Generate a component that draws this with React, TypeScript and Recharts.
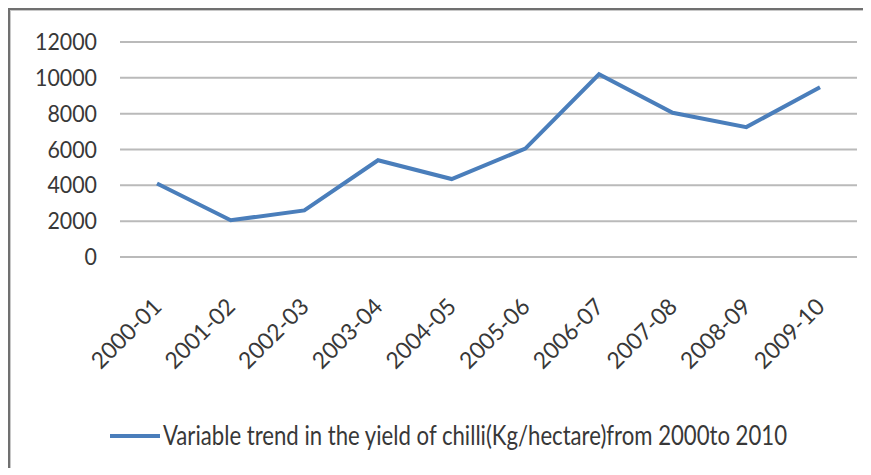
import React from "react";
import { LineChart, Line, XAxis, YAxis, CartesianGrid, Legend } from "recharts";

// Crop years and yield of chilli (Kg/hectare)
const seasons = [
  "2000-01",
  "2001-02",
  "2002-03",
  "2003-04",
  "2004-05",
  "2005-06",
  "2006-07",
  "2007-08",
  "2008-09",
  "2009-10",
];
const yieldKgPerHa = [4100, 2050, 2600, 5400, 4350, 6050, 10200, 8050, 7250, 9470];
const yTicks = [0, 2000, 4000, 6000, 8000, 10000, 12000];
const seriesName =
  "Variable trend in the yield of chilli(Kg/hectare)from 2000to 2010";

const data = seasons.map((season, i) => ({ season, value: yieldKgPerHa[i] }));

const FONT = "Lato, 'Open Sans', sans-serif";
const TEXT_COLOR = "#383838";
const LINE_COLOR = "#4a7ebb";
const GRID_COLOR = "#bababa";

const CHART_W = 863;
const CHART_H = 467;

// Narrow, Calibri-like digits: fixed advance per character
const DIGIT_W = 12.4;

const YTick = (props: any) => {
  const { x, y, payload } = props;
  const label = String(payload.value);
  return (
    <text
      x={x - 23}
      y={y + 8}
      textAnchor="end"
      fontFamily={FONT}
      fontSize={23}
      fill={TEXT_COLOR}
      textLength={label.length * DIGIT_W}
      lengthAdjust="spacingAndGlyphs"
    >
      {label}
    </text>
  );
};

const XTick = (props: any) => {
  const { x, y, payload } = props;
  return (
    <g transform={`translate(${x},${y + 45})`}>
      <text
        transform="rotate(-45)"
        x={0}
        y={8.5}
        textAnchor="end"
        fontFamily={FONT}
        fontSize={23}
        fill={TEXT_COLOR}
        textLength={88}
        lengthAdjust="spacingAndGlyphs"
      >
        {payload.value}
      </text>
    </g>
  );
};

// Legend: short blue swatch followed by a tall, narrow series label
const LegendContent = (props: any) => {
  const item = (props.payload && props.payload[0]) || { value: seriesName, color: LINE_COLOR };
  return (
    <svg width={CHART_W} height={50} style={{ display: "block" }}>
      <line x1={102} x2={152} y1={23} y2={23} stroke={item.color} strokeWidth={4} />
      <g transform="translate(155,32) scale(1,1.26)">
        <text
          x={0}
          y={0}
          fontFamily={FONT}
          fontSize={22}
          fill={TEXT_COLOR}
          textLength={624}
          lengthAdjust="spacingAndGlyphs"
        >
          {item.value}
        </text>
      </g>
    </svg>
  );
};

export default function App() {
  return (
    <div style={{ position: "relative", width: CHART_W, height: CHART_H }}>
      <div
        style={{
          position: "absolute",
          left: 0,
          top: 0,
          width: CHART_W,
          height: 460,
          boxSizing: "border-box",
          borderTop: "2px solid #707070",
          borderLeft: "2px solid #707070",
          boxShadow: "inset 1px 1px 0 #c8c8c8",
        }}
      />
      <div style={{ position: "absolute", left: 0, top: 0 }}>
        <LineChart
          width={CHART_W}
          height={CHART_H}
          data={data}
          margin={{ top: 34, right: 14, bottom: 98, left: 52 }}
        >
          <CartesianGrid vertical={false} stroke={GRID_COLOR} strokeWidth={2} />
          <XAxis
            dataKey="season"
            height={120}
            axisLine={false}
            tickLine={false}
            tickSize={0}
            tickMargin={0}
            interval={0}
            padding={{ left: 37, right: 37 }}
            tick={<XTick />}
          />
          <YAxis
            width={60}
            domain={[0, 12000]}
            ticks={yTicks}
            axisLine={false}
            tickLine={false}
            tickSize={0}
            tickMargin={0}
            tick={<YTick />}
          />
          <Legend
            layout="horizontal"
            verticalAlign="middle"
            align="center"
            wrapperStyle={{ left: 0, top: 405, width: CHART_W, height: 50 }}
            content={<LegendContent />}
          />
          <Line
            type="linear"
            dataKey="value"
            name={seriesName}
            stroke={LINE_COLOR}
            strokeWidth={4}
            dot={false}
            activeDot={false}
            isAnimationActive={false}
          />
        </LineChart>
      </div>
    </div>
  );
}
